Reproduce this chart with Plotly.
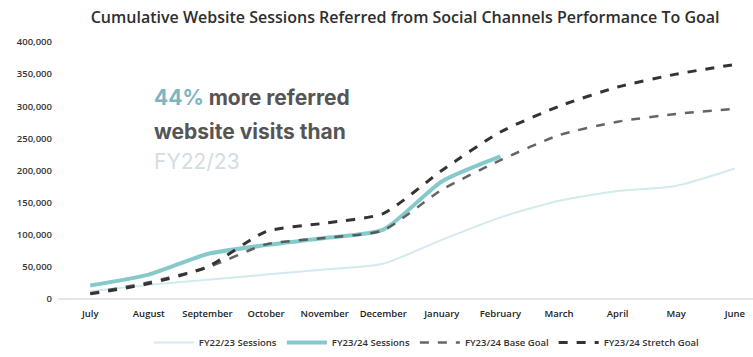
import plotly.graph_objects as go

months = ["July", "August", "September", "October", "November", "December",
          "January", "February", "March", "April", "May", "June"]

fy2223_sessions = [12000, 22000, 30000, 38000, 46000, 55000,
                   92000, 127000, 153000, 168000, 176000, 203000]
fy2324_sessions = [21000, 38000, 70000, 84000, 95000, 108000,
                   183000, 222000]
fy2324_base_goal = [9000, 26000, 49000, 85000, 95000, 107000,
                    170000, 216000, 255000, 276000, 288000, 296000]
fy2324_stretch_goal = [8000, 24000, 50000, 105000, 118000, 133000,
                       200000, 260000, 300000, 330000, 350000, 365000]

y_ticks = [0, 50000, 100000, 150000, 200000, 250000, 300000, 350000, 400000]
y_tick_text = ["0", "50,000", "100,000", "150,000", "200,000",
               "250,000", "300,000", "350,000", "400,000"]

x_idx = list(range(len(months)))

fig = go.Figure()
fig.add_trace(go.Scatter(
    x=x_idx, y=fy2223_sessions, name="FY22/23 Sessions", mode="lines",
    line=dict(color="#d3eaee", width=2, shape="spline", smoothing=0.6)))
fig.add_trace(go.Scatter(
    x=x_idx[:len(fy2324_sessions)], y=fy2324_sessions, name="FY23/24 Sessions",
    mode="lines",
    line=dict(color="#86c9cb", width=4, shape="spline", smoothing=0.6)))
fig.add_trace(go.Scatter(
    x=x_idx, y=fy2324_base_goal, name="FY23/24 Base Goal", mode="lines",
    opacity=0.85,
    line=dict(color="#4a4a4a", width=2.5, dash="dash", shape="spline", smoothing=0.6)))
fig.add_trace(go.Scatter(
    x=x_idx, y=fy2324_stretch_goal, name="FY23/24 Stretch Goal", mode="lines",
    line=dict(color="#333333", width=3, dash="dash", shape="spline", smoothing=0.6)))

fig.update_layout(
    width=753, height=357,
    margin=dict(l=58, r=0, t=42, b=55),
    paper_bgcolor="white", plot_bgcolor="white",
    font=dict(family="Open Sans", color="#333333"),
    title=dict(
        text="Cumulative Website Sessions Referred from Social Channels Performance To Goal",
        x=0.538, xanchor="center", y=0.952, yanchor="middle",
        font=dict(size=16, color="#2e2e2e", family="Open Sans", weight=600)),
    xaxis=dict(
        range=[-0.55, 11.31], tickmode="array", tickvals=x_idx, ticktext=months,
        showgrid=False, zeroline=False, showline=False,
        tickfont=dict(size=9.5, color="#222222", weight=600), ticks="",
        ticklabelstandoff=7),
    yaxis=dict(
        range=[0, 400000], tickmode="array", tickvals=y_ticks, ticktext=y_tick_text,
        showgrid=False, zeroline=True, zerolinecolor="#e6e6e6", zerolinewidth=1.5,
        showline=False, tickfont=dict(size=9.5, color="#333333", weight=600),
        ticks="", ticklabelstandoff=5),
    legend=dict(
        orientation="h", x=0.53, xanchor="center", y=-0.17, yanchor="middle",
        font=dict(size=9.5, color="#333333", weight=600), itemwidth=40,
        bgcolor="rgba(0,0,0,0)"),
    showlegend=True,
)

callout_font = dict(family="Inter", size=21, color="#555555")
fig.add_annotation(
    xref="paper", yref="paper", x=(152 - 58) / 695, y=(302 - 98) / 260,
    xanchor="left", yanchor="middle", showarrow=False, align="left",
    text="<b><span style='color:#7fb4c2'>44%</span> more referred</b>",
    font=callout_font)
fig.add_annotation(
    xref="paper", yref="paper", x=(152 - 58) / 695, y=(302 - 133) / 260,
    xanchor="left", yanchor="middle", showarrow=False, align="left",
    text="<b>website visits than</b>", font=callout_font)
fig.add_annotation(
    xref="paper", yref="paper", x=(152 - 58) / 695, y=(302 - 163) / 260,
    xanchor="left", yanchor="middle", showarrow=False, align="left",
    text="FY22/23", font=dict(family="Inter", size=21, color="#d2dde4"))

fig.write_html("out.html")
